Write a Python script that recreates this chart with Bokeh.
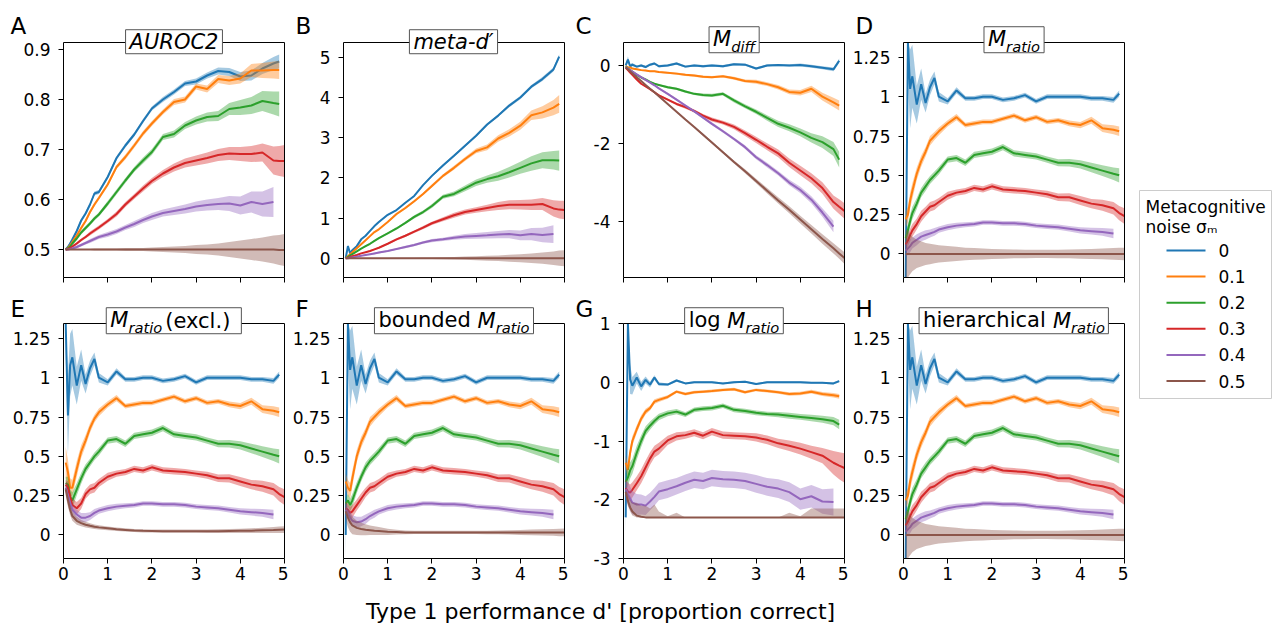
import math
from bokeh.plotting import figure
from bokeh.models import Range1d, FixedTicker, Label, PrintfTickFormatter, LinearAxis
from bokeh.layouts import row, column
from bokeh.embed import file_html
from bokeh.resources import INLINE

nan = float("nan")

# ---------------- data ----------------
X = [0.05, 0.1, 0.15, 0.2, 0.3, 0.4, 0.5, 0.6, 0.7, 0.8,
     1.0, 1.2, 1.4, 1.6, 1.8, 2.0, 2.25, 2.5, 2.75, 3.0,
     3.25, 3.5, 3.75, 4.0, 4.25, 4.5, 4.75, 4.88, 5.0]

SIGMA_LABELS = ["0", "0.1", "0.2", "0.3", "0.4", "0.5"]
COLORS = ["#1f77b4", "#ff7f0e", "#2ca02c", "#d62728", "#9467bd", "#8c564b"]

X_TICKS = [0, 1, 2, 3, 4, 5]
A_TICKS = [0.5, 0.6, 0.7, 0.8, 0.9]
B_TICKS = [0, 1, 2, 3, 4, 5]
C_TICKS = [-4, -2, 0]
MR_TICKS = [0, 0.25, 0.5, 0.75, 1, 1.25]
G_TICKS = [-3, -2, -1, 0, 1]
XLABEL = "Type 1 performance d' [proportion correct]"
LEGEND_TITLE = ["Metacognitive", "noise σₘ"]

# A: AUROC2
A0 = [0.500, 0.505, 0.512, 0.520, 0.537, 0.558, 0.572, 0.590, 0.612, 0.615,
      0.645, 0.683, 0.708, 0.730, 0.757, 0.782, 0.800, 0.815, 0.832, 0.836,
      0.848, 0.857, 0.855, 0.846, 0.848, 0.862, 0.872, 0.876, nan]
A0_E = [0.002, 0.003, 0.003, 0.004, 0.004, 0.004, 0.004, 0.004, 0.004, 0.004,
        0.004, 0.004, 0.004, 0.004, 0.004, 0.004, 0.005, 0.005, 0.005, 0.006,
        0.006, 0.007, 0.008, 0.009, 0.010, 0.011, 0.013, 0.014, nan]
A1 = [0.500, 0.503, 0.508, 0.515, 0.528, 0.543, 0.557, 0.575, 0.590, 0.603,
      0.630, 0.665, 0.685, 0.708, 0.732, 0.752, 0.775, 0.795, 0.800, 0.826,
      0.821, 0.841, 0.838, 0.842, 0.858, 0.858, 0.859, 0.859, nan]
A1_E = [0.002, 0.003, 0.003, 0.003, 0.004, 0.004, 0.004, 0.004, 0.004, 0.004,
        0.004, 0.004, 0.005, 0.005, 0.005, 0.005, 0.005, 0.006, 0.006, 0.006,
        0.007, 0.008, 0.009, 0.010, 0.013, 0.015, 0.017, 0.018, nan]
A2 = [0.500, 0.502, 0.506, 0.512, 0.522, 0.534, 0.543, 0.552, 0.562, 0.570,
      0.592, 0.615, 0.638, 0.660, 0.678, 0.695, 0.725, 0.731, 0.748, 0.758,
      0.765, 0.767, 0.781, 0.784, 0.788, 0.797, 0.793, 0.791, nan]
A2_E = [0.002, 0.002, 0.003, 0.003, 0.003, 0.004, 0.004, 0.004, 0.004, 0.004,
        0.005, 0.005, 0.005, 0.005, 0.006, 0.006, 0.006, 0.007, 0.007, 0.008,
        0.009, 0.010, 0.012, 0.015, 0.017, 0.020, 0.023, 0.025, nan]
A3 = [0.500, 0.501, 0.503, 0.506, 0.512, 0.519, 0.525, 0.532, 0.538, 0.544,
      0.557, 0.571, 0.590, 0.606, 0.622, 0.637, 0.652, 0.664, 0.673, 0.678,
      0.683, 0.689, 0.692, 0.691, 0.691, 0.694, 0.678, 0.677, 0.677]
A3_E = [0.002, 0.002, 0.002, 0.003, 0.003, 0.003, 0.003, 0.004, 0.004, 0.004,
        0.004, 0.005, 0.005, 0.005, 0.006, 0.006, 0.007, 0.008, 0.009, 0.010,
        0.011, 0.012, 0.013, 0.014, 0.016, 0.018, 0.028, 0.030, 0.032]
A4 = [0.500, 0.500, 0.501, 0.502, 0.505, 0.509, 0.513, 0.517, 0.521, 0.525,
      0.530, 0.536, 0.544, 0.551, 0.559, 0.566, 0.573, 0.577, 0.581, 0.586,
      0.589, 0.591, 0.592, 0.588, 0.595, 0.591, 0.595, nan, nan]
A4_E = [0.002, 0.002, 0.002, 0.003, 0.003, 0.003, 0.003, 0.004, 0.004, 0.004,
        0.005, 0.005, 0.005, 0.006, 0.006, 0.007, 0.007, 0.008, 0.009, 0.010,
        0.011, 0.012, 0.015, 0.018, 0.021, 0.025, 0.030, nan, nan]
A5 = [0.500, 0.500, 0.500, 0.500, 0.500, 0.500, 0.500, 0.500, 0.500, 0.500,
      0.500, 0.500, 0.500, 0.500, 0.500, 0.500, 0.500, 0.500, 0.500, 0.500,
      0.500, 0.500, 0.500, 0.500, 0.500, 0.500, 0.500, 0.499, 0.499]
A5_E = [0.001, 0.001, 0.001, 0.001, 0.001, 0.001, 0.001, 0.001, 0.002, 0.002,
        0.002, 0.002, 0.003, 0.003, 0.003, 0.004, 0.005, 0.006, 0.007, 0.009,
        0.010, 0.012, 0.015, 0.018, 0.021, 0.024, 0.028, 0.030, 0.032]

# B: meta-d'
B0 = [0.00, 0.30, 0.12, 0.20, 0.30, 0.47, 0.56, 0.68, 0.80, 0.90,
      1.08, 1.20, 1.38, 1.55, 1.82, 2.05, 2.31, 2.55, 2.80, 3.05,
      3.33, 3.55, 3.80, 4.00, 4.27, 4.46, 4.70, 5.02, nan]
B0_E = [0.02, 0.05, 0.03, 0.03, 0.02, 0.02, 0.02, 0.02, 0.02, 0.02,
        0.02, 0.02, 0.02, 0.02, 0.02, 0.03, 0.03, 0.03, 0.03, 0.03,
        0.03, 0.03, 0.04, 0.04, 0.04, 0.05, 0.05, 0.06, nan]
B1 = [0.00, 0.05, 0.10, 0.15, 0.25, 0.35, 0.45, 0.55, 0.65, 0.72,
      0.90, 1.10, 1.25, 1.42, 1.60, 1.80, 2.05, 2.25, 2.47, 2.67,
      2.76, 2.98, 3.12, 3.30, 3.56, 3.63, 3.75, 3.84, nan]
B1_E = [0.01, 0.01, 0.01, 0.01, 0.01, 0.02, 0.02, 0.02, 0.02, 0.02,
        0.02, 0.03, 0.03, 0.03, 0.03, 0.04, 0.04, 0.05, 0.05, 0.06,
        0.07, 0.08, 0.09, 0.10, 0.12, 0.15, 0.19, 0.22, nan]
B2 = [0.00, 0.03, 0.07, 0.10, 0.17, 0.24, 0.30, 0.36, 0.43, 0.50,
      0.62, 0.74, 0.88, 1.03, 1.15, 1.30, 1.53, 1.60, 1.74, 1.88,
      1.97, 2.04, 2.14, 2.25, 2.36, 2.44, 2.44, 2.43, nan]
B2_E = [0.01, 0.01, 0.01, 0.01, 0.01, 0.01, 0.02, 0.02, 0.02, 0.02,
        0.02, 0.03, 0.03, 0.04, 0.04, 0.05, 0.05, 0.06, 0.07, 0.08,
        0.09, 0.11, 0.13, 0.15, 0.18, 0.20, 0.23, 0.25, nan]
B3 = [0.00, 0.01, 0.03, 0.05, 0.08, 0.12, 0.15, 0.18, 0.22, 0.26,
      0.36, 0.47, 0.56, 0.66, 0.76, 0.87, 0.97, 1.07, 1.15, 1.20,
      1.25, 1.30, 1.33, 1.33, 1.33, 1.35, 1.24, 1.21, 1.20]
B3_E = [0.01, 0.01, 0.01, 0.01, 0.01, 0.01, 0.01, 0.02, 0.02, 0.02,
        0.02, 0.03, 0.03, 0.03, 0.04, 0.04, 0.05, 0.06, 0.06, 0.07,
        0.08, 0.10, 0.11, 0.12, 0.13, 0.15, 0.20, 0.22, 0.23]
B4 = [0.00, 0.00, 0.01, 0.02, 0.04, 0.06, 0.08, 0.10, 0.12, 0.14,
      0.18, 0.23, 0.28, 0.33, 0.39, 0.44, 0.47, 0.51, 0.54, 0.555,
      0.57, 0.59, 0.60, 0.57, 0.60, 0.58, 0.60, nan, nan]
B4_E = [0.01, 0.01, 0.01, 0.01, 0.01, 0.01, 0.01, 0.01, 0.02, 0.02,
        0.02, 0.02, 0.03, 0.03, 0.03, 0.04, 0.04, 0.05, 0.06, 0.07,
        0.08, 0.09, 0.10, 0.12, 0.15, 0.18, 0.22, nan, nan]
B5 = [0.00, 0.00, 0.00, 0.00, 0.00, 0.00, 0.00, 0.00, 0.00, 0.00,
      0.00, 0.00, 0.00, 0.00, 0.00, 0.00, 0.00, 0.00, 0.00, 0.00,
      0.00, 0.00, 0.00, 0.00, 0.00, 0.00, 0.00, 0.00, 0.00]
B5_E = [0.005, 0.005, 0.005, 0.005, 0.005, 0.005, 0.005, 0.006, 0.006, 0.007,
        0.008, 0.009, 0.010, 0.012, 0.015, 0.020, 0.025, 0.030, 0.040, 0.050,
        0.060, 0.070, 0.085, 0.100, 0.120, 0.140, 0.170, 0.190, 0.200]

# C: M_diff
C0 = [0.00, 0.15, -0.02, 0.02, -0.03, 0.00, -0.04, 0.02, 0.05, -0.02,
      0.00, 0.05, -0.03, 0.00, -0.02, 0.00, -0.02, 0.03, 0.02, -0.08,
      0.00, 0.01, 0.00, 0.01, -0.02, -0.06, -0.10, 0.12, nan]
C0_E = [0.05, 0.08, 0.05, 0.04, 0.03, 0.03, 0.03, 0.03, 0.03, 0.03,
        0.03, 0.03, 0.03, 0.03, 0.03, 0.03, 0.03, 0.03, 0.03, 0.03,
        0.03, 0.03, 0.03, 0.04, 0.04, 0.04, 0.05, 0.06, nan]
C1 = [-0.02, -0.05, -0.05, -0.08, -0.10, -0.12, -0.13, -0.15, -0.15, -0.17,
      -0.19, -0.21, -0.24, -0.26, -0.29, -0.30, -0.28, -0.33, -0.40, -0.42,
      -0.48, -0.56, -0.68, -0.70, -0.60, -0.80, -0.95, -1.03, nan]
C1_E = [0.02, 0.02, 0.02, 0.02, 0.02, 0.02, 0.02, 0.02, 0.02, 0.02,
        0.02, 0.03, 0.03, 0.03, 0.03, 0.03, 0.03, 0.04, 0.04, 0.05,
        0.05, 0.06, 0.06, 0.07, 0.08, 0.10, 0.12, 0.13, nan]
C2 = [-0.03, -0.08, -0.12, -0.16, -0.24, -0.31, -0.36, -0.42, -0.47, -0.50,
      -0.56, -0.60, -0.67, -0.73, -0.76, -0.77, -0.73, -0.90, -1.05, -1.19,
      -1.35, -1.50, -1.60, -1.72, -1.86, -1.97, -2.15, -2.42, nan]
C2_E = [0.02, 0.02, 0.02, 0.02, 0.02, 0.02, 0.02, 0.02, 0.02, 0.02,
        0.03, 0.03, 0.03, 0.03, 0.04, 0.04, 0.04, 0.05, 0.05, 0.06,
        0.07, 0.08, 0.09, 0.10, 0.12, 0.15, 0.18, 0.20, nan]
C3 = [-0.06, -0.12, -0.18, -0.24, -0.36, -0.47, -0.54, -0.61, -0.69, -0.77,
      -0.88, -0.99, -1.07, -1.17, -1.29, -1.39, -1.47, -1.58, -1.74, -1.91,
      -2.09, -2.26, -2.50, -2.70, -2.90, -3.15, -3.51, -3.63, -3.74]
C3_E = [0.02, 0.02, 0.02, 0.02, 0.02, 0.02, 0.02, 0.02, 0.03, 0.03,
        0.03, 0.03, 0.04, 0.04, 0.04, 0.05, 0.05, 0.06, 0.07, 0.08,
        0.09, 0.10, 0.11, 0.12, 0.13, 0.15, 0.17, 0.19, 0.20]
C4 = [-0.04, -0.08, -0.12, -0.16, -0.23, -0.30, -0.37, -0.44, -0.51, -0.59,
      -0.73, -0.88, -1.03, -1.18, -1.34, -1.50, -1.69, -1.89, -2.10, -2.36,
      -2.56, -2.77, -3.01, -3.20, -3.45, -3.78, -4.14, nan, nan]
C4_E = [0.02, 0.02, 0.02, 0.02, 0.02, 0.02, 0.02, 0.02, 0.02, 0.02,
        0.03, 0.03, 0.03, 0.03, 0.03, 0.04, 0.04, 0.04, 0.05, 0.05,
        0.06, 0.06, 0.07, 0.08, 0.09, 0.11, 0.15, nan, nan]
C5 = [-0.05, -0.10, -0.15, -0.20, -0.30, -0.40, -0.50, -0.60, -0.69, -0.79,
      -0.99, -1.19, -1.39, -1.58, -1.78, -1.98, -2.23, -2.48, -2.72, -2.97,
      -3.22, -3.47, -3.71, -3.96, -4.21, -4.46, -4.70, -4.83, -4.95]
C5_E = [0.01, 0.01, 0.01, 0.01, 0.01, 0.01, 0.01, 0.01, 0.01, 0.01,
        0.02, 0.02, 0.02, 0.02, 0.03, 0.03, 0.03, 0.04, 0.05, 0.06,
        0.07, 0.08, 0.09, 0.10, 0.11, 0.12, 0.13, 0.14, 0.15]

# D: M_ratio
D0 = [-0.30, 1.45, 1.05, 1.13, 0.95, 1.08, 0.96, 1.06, 1.12, 1.00,
      0.97, 1.04, 0.99, 0.99, 1.00, 1.00, 0.98, 0.99, 1.01, 0.97,
      1.00, 1.00, 1.00, 1.00, 0.99, 0.99, 0.98, 1.02, nan]
D0_E = [0.30, 0.35, 0.25, 0.20, 0.12, 0.10, 0.06, 0.05, 0.04, 0.03,
        0.02, 0.02, 0.015, 0.015, 0.015, 0.015, 0.015, 0.015, 0.015, 0.015,
        0.015, 0.015, 0.015, 0.015, 0.015, 0.015, 0.018, 0.02, nan]
D1 = [0.22, 0.25, 0.34, 0.40, 0.51, 0.59, 0.65, 0.72, 0.75, 0.78,
      0.83, 0.87, 0.82, 0.83, 0.84, 0.84, 0.86, 0.88, 0.85, 0.87,
      0.84, 0.85, 0.83, 0.82, 0.85, 0.80, 0.79, 0.78, nan]
D1_E = [0.05, 0.05, 0.05, 0.05, 0.04, 0.035, 0.03, 0.03, 0.025, 0.025,
        0.02, 0.02, 0.015, 0.015, 0.015, 0.015, 0.015, 0.015, 0.015, 0.015,
        0.015, 0.015, 0.018, 0.02, 0.022, 0.025, 0.028, 0.03, nan]
D2 = [0.10, 0.15, 0.21, 0.26, 0.32, 0.39, 0.43, 0.47, 0.50, 0.53,
      0.60, 0.61, 0.58, 0.63, 0.64, 0.65, 0.68, 0.64, 0.63, 0.62,
      0.60, 0.58, 0.58, 0.57, 0.55, 0.53, 0.51, 0.50, nan]
D2_E = [0.04, 0.04, 0.04, 0.04, 0.035, 0.03, 0.03, 0.025, 0.025, 0.025,
        0.02, 0.02, 0.02, 0.02, 0.02, 0.02, 0.02, 0.02, 0.02, 0.02,
        0.02, 0.022, 0.024, 0.026, 0.03, 0.034, 0.04, 0.045, nan]
D3 = [0.06, 0.085, 0.12, 0.15, 0.19, 0.24, 0.27, 0.30, 0.31, 0.33,
      0.37, 0.39, 0.40, 0.42, 0.41, 0.43, 0.41, 0.405, 0.40, 0.39,
      0.38, 0.36, 0.36, 0.34, 0.32, 0.31, 0.29, 0.26, 0.24]
D3_E = [0.04, 0.04, 0.04, 0.04, 0.035, 0.035, 0.03, 0.03, 0.03, 0.025,
        0.025, 0.02, 0.02, 0.02, 0.02, 0.02, 0.02, 0.02, 0.02, 0.02,
        0.022, 0.024, 0.026, 0.028, 0.03, 0.035, 0.04, 0.045, 0.05]
D4 = [0.02, 0.035, 0.05, 0.07, 0.09, 0.11, 0.12, 0.13, 0.14, 0.155,
      0.17, 0.18, 0.185, 0.19, 0.20, 0.20, 0.195, 0.195, 0.19, 0.18,
      0.175, 0.17, 0.16, 0.15, 0.145, 0.14, 0.13, nan, nan]
D4_E = [0.04, 0.04, 0.04, 0.035, 0.035, 0.03, 0.03, 0.025, 0.025, 0.02,
        0.02, 0.018, 0.016, 0.015, 0.015, 0.015, 0.015, 0.015, 0.015, 0.015,
        0.016, 0.017, 0.018, 0.02, 0.022, 0.025, 0.03, nan, nan]
D5 = [0.00, 0.00, 0.00, 0.00, 0.00, 0.00, 0.00, 0.00, 0.00, 0.00,
      0.00, 0.00, 0.00, 0.00, 0.00, 0.00, 0.00, 0.00, 0.00, 0.00,
      0.00, 0.00, 0.00, 0.00, 0.00, 0.00, 0.00, 0.00, 0.00]
D5_E = [0.15, 0.15, 0.13, 0.11, 0.09, 0.08, 0.07, 0.065, 0.06, 0.055,
        0.05, 0.045, 0.04, 0.037, 0.035, 0.032, 0.03, 0.028, 0.027, 0.026,
        0.026, 0.027, 0.028, 0.03, 0.032, 0.034, 0.037, 0.039, 0.04]

# E: M_ratio (excl.)
E0 = [1.45, 0.76, 1.08, 1.13, 0.95, 1.08, 0.96, 1.06, 1.12, 1.00,
      0.97, 1.04, 0.99, 0.99, 1.00, 1.00, 0.98, 0.99, 1.01, 0.97,
      1.00, 1.00, 1.00, 1.00, 0.99, 0.99, 0.98, 1.02, nan]
E0_E = [0.30, 0.25, 0.20, 0.18, 0.12, 0.10, 0.06, 0.05, 0.04, 0.03,
        0.02, 0.02, 0.015, 0.015, 0.015, 0.015, 0.015, 0.015, 0.015, 0.015,
        0.015, 0.015, 0.015, 0.015, 0.015, 0.015, 0.018, 0.02, nan]
E1 = [0.46, 0.40, 0.30, 0.30, 0.42, 0.53, 0.60, 0.68, 0.74, 0.78,
      0.83, 0.87, 0.82, 0.83, 0.84, 0.84, 0.86, 0.88, 0.85, 0.87,
      0.84, 0.85, 0.83, 0.82, 0.85, 0.80, 0.79, 0.78, nan]
E1_E = [0.10, 0.08, 0.06, 0.05, 0.05, 0.04, 0.035, 0.03, 0.025, 0.025,
        0.02, 0.02, 0.015, 0.015, 0.015, 0.015, 0.015, 0.015, 0.015, 0.015,
        0.015, 0.015, 0.018, 0.02, 0.022, 0.025, 0.028, 0.03, nan]
E2 = [0.33, 0.32, 0.24, 0.22, 0.29, 0.36, 0.42, 0.46, 0.50, 0.53,
      0.60, 0.61, 0.58, 0.63, 0.64, 0.65, 0.68, 0.64, 0.63, 0.62,
      0.60, 0.58, 0.58, 0.57, 0.55, 0.53, 0.51, 0.50, nan]
E2_E = [0.04, 0.05, 0.05, 0.05, 0.04, 0.035, 0.03, 0.025, 0.025, 0.025,
        0.02, 0.02, 0.02, 0.02, 0.02, 0.02, 0.02, 0.02, 0.02, 0.02,
        0.02, 0.022, 0.024, 0.026, 0.03, 0.034, 0.04, 0.045, nan]
E3 = [0.32, 0.30, 0.24, 0.19, 0.17, 0.20, 0.26, 0.29, 0.30, 0.33,
      0.37, 0.39, 0.40, 0.42, 0.41, 0.43, 0.41, 0.405, 0.40, 0.39,
      0.38, 0.36, 0.36, 0.34, 0.32, 0.31, 0.29, 0.26, 0.24]
E3_E = [0.03, 0.04, 0.04, 0.04, 0.04, 0.035, 0.03, 0.03, 0.03, 0.025,
        0.025, 0.02, 0.02, 0.02, 0.02, 0.02, 0.02, 0.02, 0.02, 0.02,
        0.022, 0.024, 0.026, 0.028, 0.03, 0.035, 0.04, 0.045, 0.05]
E4 = [0.30, 0.25, 0.20, 0.16, 0.13, 0.11, 0.11, 0.12, 0.14, 0.155,
      0.17, 0.18, 0.185, 0.19, 0.20, 0.20, 0.195, 0.195, 0.19, 0.18,
      0.175, 0.17, 0.16, 0.15, 0.145, 0.14, 0.13, nan, nan]
E4_E = [0.03, 0.03, 0.03, 0.03, 0.03, 0.03, 0.03, 0.025, 0.025, 0.02,
        0.02, 0.018, 0.016, 0.015, 0.015, 0.015, 0.015, 0.015, 0.015, 0.015,
        0.016, 0.017, 0.018, 0.02, 0.022, 0.025, 0.03, nan, nan]
E5 = [0.29, 0.22, 0.16, 0.12, 0.09, 0.075, 0.065, 0.058, 0.052, 0.048,
      0.042, 0.036, 0.032, 0.028, 0.026, 0.025, 0.024, 0.024, 0.024, 0.024,
      0.024, 0.024, 0.025, 0.026, 0.027, 0.029, 0.031, 0.033, 0.034]
E5_E = [0.04, 0.04, 0.035, 0.03, 0.025, 0.02, 0.018, 0.016, 0.015, 0.014,
        0.012, 0.011, 0.01, 0.01, 0.01, 0.01, 0.01, 0.01, 0.01, 0.01,
        0.011, 0.012, 0.013, 0.014, 0.015, 0.017, 0.019, 0.02, 0.021]

# F: bounded M_ratio
F0 = [0.00, 1.45, 1.05, 1.13, 0.95, 1.08, 0.96, 1.06, 1.12, 1.00,
      0.97, 1.04, 0.99, 0.99, 1.00, 1.00, 0.98, 0.99, 1.01, 0.97,
      1.00, 1.00, 1.00, 1.00, 0.99, 0.99, 0.98, 1.02, nan]
F1 = [0.34, 0.30, 0.28, 0.36, 0.50, 0.59, 0.65, 0.72, 0.75, 0.78,
      0.83, 0.87, 0.82, 0.83, 0.84, 0.84, 0.86, 0.88, 0.85, 0.87,
      0.84, 0.85, 0.83, 0.82, 0.85, 0.80, 0.79, 0.78, nan]
F2 = [0.20, 0.22, 0.19, 0.22, 0.30, 0.37, 0.43, 0.47, 0.50, 0.53,
      0.60, 0.61, 0.58, 0.63, 0.64, 0.65, 0.68, 0.64, 0.63, 0.62,
      0.60, 0.58, 0.58, 0.57, 0.55, 0.53, 0.51, 0.50, nan]
F3 = [0.17, 0.16, 0.14, 0.15, 0.19, 0.23, 0.27, 0.30, 0.31, 0.33,
      0.37, 0.39, 0.40, 0.42, 0.41, 0.43, 0.41, 0.405, 0.40, 0.39,
      0.38, 0.36, 0.36, 0.34, 0.32, 0.31, 0.29, 0.26, 0.24]
F4 = [0.16, 0.14, 0.11, 0.09, 0.08, 0.085, 0.10, 0.12, 0.135, 0.15,
      0.17, 0.18, 0.185, 0.19, 0.20, 0.20, 0.195, 0.195, 0.19, 0.18,
      0.175, 0.17, 0.16, 0.15, 0.145, 0.14, 0.13, nan, nan]
F5 = [0.15, 0.11, 0.08, 0.06, 0.045, 0.038, 0.033, 0.03, 0.027, 0.025,
      0.02, 0.018, 0.016, 0.016, 0.016, 0.016, 0.016, 0.016, 0.016, 0.016,
      0.016, 0.016, 0.016, 0.016, 0.016, 0.016, 0.016, 0.016, 0.016]
F5_E = [0.05, 0.06, 0.06, 0.055, 0.045, 0.04, 0.035, 0.03, 0.028, 0.025,
        0.02, 0.015, 0.012, 0.01, 0.01, 0.01, 0.01, 0.01, 0.01, 0.01,
        0.011, 0.012, 0.014, 0.016, 0.018, 0.02, 0.022, 0.024, 0.025]

# G: log M_ratio
G0 = [-2.30, 1.10, 0.05, -0.06, 0.08, -0.07, 0.04, -0.04, 0.08, -0.03,
      -0.04, 0.03, -0.02, 0.00, 0.00, 0.00, -0.02, 0.00, 0.01, -0.03,
      0.00, 0.00, 0.00, 0.00, -0.01, -0.01, -0.02, 0.02, nan]
G0_E = [0.30, 0.30, 0.25, 0.15, 0.10, 0.08, 0.06, 0.05, 0.04, 0.03,
        0.02, 0.02, 0.015, 0.015, 0.015, 0.015, 0.015, 0.015, 0.015, 0.015,
        0.015, 0.015, 0.015, 0.015, 0.015, 0.015, 0.018, 0.02, nan]
G1 = [-1.37, -1.49, -1.20, -1.00, -0.80, -0.62, -0.50, -0.44, -0.33, -0.30,
      -0.25, -0.16, -0.20, -0.17, -0.16, -0.15, -0.13, -0.12, -0.17, -0.13,
      -0.15, -0.17, -0.20, -0.19, -0.16, -0.20, -0.22, -0.24, nan]
G1_E = [0.12, 0.12, 0.10, 0.08, 0.07, 0.06, 0.05, 0.04, 0.04, 0.035,
        0.03, 0.025, 0.025, 0.025, 0.025, 0.025, 0.025, 0.025, 0.025, 0.025,
        0.025, 0.025, 0.028, 0.03, 0.032, 0.035, 0.038, 0.04, nan]
G2 = [-1.70, -1.62, -1.50, -1.43, -1.20, -1.00, -0.83, -0.74, -0.66, -0.59,
      -0.53, -0.50, -0.55, -0.47, -0.45, -0.44, -0.40, -0.47, -0.49, -0.52,
      -0.54, -0.55, -0.57, -0.59, -0.61, -0.63, -0.66, -0.72, nan]
G2_E = [0.15, 0.15, 0.14, 0.13, 0.12, 0.10, 0.08, 0.07, 0.06, 0.055,
        0.05, 0.045, 0.04, 0.04, 0.04, 0.04, 0.04, 0.04, 0.04, 0.04,
        0.04, 0.045, 0.05, 0.05, 0.055, 0.06, 0.07, 0.08, nan]
G3 = [-1.80, -1.86, -1.88, -1.83, -1.72, -1.60, -1.45, -1.30, -1.18, -1.13,
      -0.99, -0.92, -0.90, -0.86, -0.91, -0.84, -0.90, -0.91, -0.92, -0.94,
      -0.98, -1.04, -1.08, -1.13, -1.19, -1.25, -1.37, -1.42, -1.46]
G3_E = [0.15, 0.15, 0.14, 0.13, 0.12, 0.12, 0.12, 0.11, 0.10, 0.10,
        0.08, 0.07, 0.06, 0.06, 0.06, 0.06, 0.06, 0.06, 0.06, 0.07,
        0.075, 0.08, 0.09, 0.10, 0.11, 0.13, 0.20, 0.23, 0.25]
G4 = [-1.82, -1.90, -1.98, -2.05, -2.08, -2.08, -2.10, -2.03, -1.95, -1.86,
      -1.82, -1.77, -1.71, -1.66, -1.68, -1.63, -1.65, -1.66, -1.68, -1.73,
      -1.78, -1.81, -1.87, -1.99, -1.94, -2.03, -2.04, nan, nan]
G4_E = [0.15, 0.20, 0.20, 0.20, 0.18, 0.17, 0.16, 0.15, 0.15, 0.15,
        0.15, 0.14, 0.14, 0.14, 0.14, 0.14, 0.14, 0.14, 0.14, 0.15,
        0.15, 0.16, 0.17, 0.18, 0.19, 0.21, 0.23, nan, nan]
G5 = [-1.87, -2.02, -2.13, -2.20, -2.27, -2.29, -2.30, -2.30, -2.30, -2.30,
      -2.30, -2.30, -2.30, -2.30, -2.30, -2.30, -2.30, -2.30, -2.30, -2.30,
      -2.30, -2.30, -2.30, -2.30, -2.30, -2.30, -2.30, -2.30, -2.30]
G5_LO = [-1.95, -2.10, -2.20, -2.27, -2.30, -2.30, -2.30, -2.30, -2.30, -2.30,
         -2.30, -2.30, -2.30, -2.30, -2.30, -2.30, -2.30, -2.30, -2.30, -2.30,
         -2.30, -2.30, -2.30, -2.30, -2.30, -2.30, -2.30, -2.30, -2.30]
G5_HI = [-1.80, -1.90, -2.00, -2.05, -2.05, -2.10, -2.10, -2.15, -2.08, -2.20,
         -2.28, -2.22, -2.30, -2.30, -2.30, -2.30, -2.30, -2.30, -2.30, -2.30,
         -2.30, -2.30, -2.22, -2.28, -2.15, -2.15, -2.15, -2.15, -2.15]

# H: hierarchical M_ratio (reads the same as panel D)
H0, H1, H2, H3, H4, H5 = D0, D1, D2, D3, D4, D5
H0_E, H1_E, H2_E, H3_E, H4_E, H5_E = D0_E, D1_E, D2_E, D3_E, D4_E, D5_E

# ---------------- styling / layout ----------------
FONT = "DejaVu Sans"
TICK_PX = 17
TITLE_PX = 21
SUB_PX = 14.7
LETTER_PX = 23
DATA_W = 221
COL_W = [288, 280, 280, 280]
COL_L = [63, 55, 55, 55]
LETTER_DX = [-53, -48, -48, -48]
LETTER_DY = [8.5, 6.5]          # letter baseline above the plot top
ROW_H = [289, 299]
ROW_T = [42, 34]
ROW_B = [277, 269]
BASE_K = 0.346                  # bokeh places an 'alphabetic' label this many em low

CW = {"A": .684, "U": .732, "R": .695, "O": .787, "C": .698, "2": .636, "M": .863,
      "m": .974, "e": .615, "t": .392, "a": .613, "-": .361, "d": .635, "′": .275,
      "r": .411, "i": .278, "o": .612, "f": .352, " ": .318, "(": .390, ")": .390,
      "x": .592, "c": .550, "l": .278, ".": .318, "b": .635, "u": .634, "n": .634,
      "h": .634, "g": .635}


def text_w(s, px):
    return sum(CW.get(ch, 0.6) for ch in s) * px


def base_off(px):
    return BASE_K * px


# title segments: (text, style, size, drop below main baseline, extra gap before)
PANELS = [
    dict(letter="A", yr=(0.444, 0.914), ticks=A_TICKS,
         title=[("AUROC2", "italic", TITLE_PX, 0, 0)],
         means=[A0, A1, A2, A3, A4, A5], errs=[A0_E, A1_E, A2_E, A3_E, A4_E, A5_E]),
    dict(letter="B", yr=(-0.48, 5.37), ticks=B_TICKS,
         title=[("meta-d′", "italic", TITLE_PX, 0, 0)],
         means=[B0, B1, B2, B3, B4, B5], errs=[B0_E, B1_E, B2_E, B3_E, B4_E, B5_E]),
    dict(letter="C", yr=(-5.45, 0.59), ticks=C_TICKS,
         title=[("M", "italic", TITLE_PX, 0, 0), ("diff", "italic", SUB_PX, 4.5, 0)],
         means=[C0, C1, C2, C3, C4, C5], errs=[C0_E, C1_E, C2_E, C3_E, C4_E, C5_E]),
    dict(letter="D", yr=(-0.15, 1.345), ticks=MR_TICKS,
         title=[("M", "italic", TITLE_PX, 0, 0), ("ratio", "italic", SUB_PX, 4.5, 0)],
         means=[D0, D1, D2, D3, D4, D5], errs=[D0_E, D1_E, D2_E, D3_E, D4_E, D5_E]),
    dict(letter="E", yr=(-0.15, 1.345), ticks=MR_TICKS,
         title=[("M", "italic", TITLE_PX, 0, 0), ("ratio", "italic", SUB_PX, 4.5, 0),
                (" (excl.)", "normal", TITLE_PX, 0, 3)],
         means=[E0, E1, E2, E3, E4, E5], errs=[E0_E, E1_E, E2_E, E3_E, E4_E, E5_E]),
    dict(letter="F", yr=(-0.15, 1.345), ticks=MR_TICKS,
         title=[("bounded ", "normal", TITLE_PX, 0, 0), ("M", "italic", TITLE_PX, 0, 0),
                ("ratio", "italic", SUB_PX, 4.5, 0)],
         means=[F0, F1, F2, F3, F4, F5], errs=[D0_E, D1_E, D2_E, D3_E, D4_E, F5_E]),
    dict(letter="G", yr=(-3.0, 1.0), ticks=G_TICKS,
         title=[("log ", "normal", TITLE_PX, 0, 0), ("M", "italic", TITLE_PX, 0, 0),
                ("ratio", "italic", SUB_PX, 4.5, 0)],
         means=[G0, G1, G2, G3, G4, G5], errs=[G0_E, G1_E, G2_E, G3_E, G4_E, (G5_LO, G5_HI)]),
    dict(letter="H", yr=(-0.15, 1.345), ticks=MR_TICKS,
         title=[("hierarchical ", "normal", TITLE_PX, 0, 0), ("M", "italic", TITLE_PX, 0, 0),
                ("ratio", "italic", SUB_PX, 4.5, 0)],
         means=[H0, H1, H2, H3, H4, H5], errs=[H0_E, H1_E, H2_E, H3_E, H4_E, H5_E]),
]


def style_axis(ax):
    ax.axis_line_color = "black"
    ax.axis_line_width = 1
    ax.major_tick_line_color = "black"
    ax.major_tick_line_width = 1
    ax.major_tick_in = 0
    ax.major_tick_out = 5
    ax.minor_tick_line_color = None
    ax.minor_tick_out = 0
    ax.minor_tick_in = 0
    ax.major_label_text_font = FONT
    ax.major_label_text_font_size = f"{TICK_PX}px"
    ax.major_label_text_color = "black"
    ax.formatter = PrintfTickFormatter(format="%g")


def spine(loc, bounds):
    ax = LinearAxis(fixed_location=loc, bounds=bounds, ticker=FixedTicker(ticks=[]))
    style_axis(ax)
    ax.major_tick_out = 0
    ax.major_label_text_color = None
    return ax


def make_panel(cfg, col, rw):
    y0, y1 = cfg["yr"]
    W, L = COL_W[col], COL_L[col]
    Hh, T, B = ROW_H[rw], ROW_T[rw], ROW_B[rw]
    kx = 5.0 / DATA_W
    ky = (y1 - y0) / (B - T)
    xr = Range1d(-L * kx, 5 + (W - L - DATA_W) * kx)
    yr = Range1d(y0 - (Hh - B) * ky, y1 + T * ky)
    p = figure(width=W, height=Hh, x_range=xr, y_range=yr,
               output_backend="svg", toolbar_location=None, tools="", min_border=0)
    p.xgrid.visible = False
    p.ygrid.visible = False
    p.outline_line_color = None
    p.background_fill_color = "white"
    p.border_fill_color = "white"

    yax = p.yaxis[0]
    style_axis(yax)
    yax.fixed_location = 0
    yax.bounds = (y0, y1)
    yax.ticker = FixedTicker(ticks=cfg["ticks"])
    yax.major_label_standoff = 8

    xax = p.xaxis[0]
    style_axis(xax)
    xax.fixed_location = y0
    xax.bounds = (0, 5)
    xax.ticker = FixedTicker(ticks=X_TICKS)
    xax.major_label_standoff = 3
    if rw == 0:
        xax.major_label_text_color = None

    p.add_layout(spine(5, (y0, y1)), "right")
    p.add_layout(spine(y1, (0, 5)), "above")

    for i in range(6):
        m = cfg["means"][i]
        e = cfg["errs"][i]
        keep = [k for k in range(len(X)) if not math.isnan(m[k])]
        xs = [X[k] for k in keep]
        ys = [min(max(m[k], y0), y1) for k in keep]
        if isinstance(e, tuple):
            lo = [e[0][k] for k in keep]
            hi = [e[1][k] for k in keep]
        else:
            lo = [m[k] - e[k] for k in keep]
            hi = [m[k] + e[k] for k in keep]
        lo = [min(max(v, y0), y1) for v in lo]
        hi = [min(max(v, y0), y1) for v in hi]
        p.varea(x=xs, y1=lo, y2=hi, fill_color=COLORS[i], fill_alpha=0.4)
        p.line(x=xs, y=ys, line_color=COLORS[i], line_width=2)

    # panel letter
    p.add_layout(Label(x=0, y=y1, x_offset=LETTER_DX[col],
                       y_offset=LETTER_DY[rw] + base_off(LETTER_PX),
                       text=cfg["letter"], text_font=FONT, text_font_size=f"{LETTER_PX}px",
                       text_align="left", text_baseline="alphabetic", text_color="black"))

    # boxed title built from segments
    segs = cfg["title"]
    has_sub = any(s[3] for s in segs)
    base_below = 4.5 if has_sub else 6.5
    widths = [text_w(s[0], s[2]) + s[4] for s in segs]
    total = sum(widths)
    start = -total / 2.0
    pad = 4
    for j, (txt, style, px, drop, gap) in enumerate(segs):
        kw = {}
        xo = start + sum(widths[:j]) + gap
        if j == 0:
            kw = dict(background_fill_color="white", border_line_color="#555555",
                      border_line_width=1,
                      padding=dict(left=pad, right=int(round(pad + total - widths[0])),
                                   top=0, bottom=2 if has_sub else 0))
            xo -= pad
        p.add_layout(Label(x=2.5, y=y1, x_offset=xo,
                           y_offset=-(base_below + drop) + base_off(px),
                           text=txt, text_font=FONT,
                           text_font_size=f"{px}px", text_font_style=style,
                           text_align="left", text_baseline="alphabetic",
                           text_color="black", **kw))
    return p


panels = []
for idx, cfg in enumerate(PANELS):
    panels.append(make_panel(cfg, idx % 4, idx // 4))

# legend figure
LEG_W = 146
LEG_H = ROW_H[0] + ROW_H[1]
lg = figure(width=LEG_W, height=LEG_H, x_range=Range1d(0, LEG_W), y_range=Range1d(0, LEG_H),
            output_backend="svg", toolbar_location=None, tools="", min_border=0,
            x_axis_type=None, y_axis_type=None)
lg.outline_line_color = None
lg.background_fill_color = "white"
lg.border_fill_color = "white"
top_px = LEG_H - 190
lg.quad(left=11, right=143, bottom=top_px - 208, top=top_px, fill_color="white",
        line_color="#cccccc", line_width=1)
lg.add_layout(Label(x=17, y=top_px - 22 + base_off(17), text=LEGEND_TITLE[0], text_font=FONT,
                    text_font_size="17px", text_baseline="alphabetic", text_color="black"))
lg.add_layout(Label(x=17, y=top_px - 42 + base_off(17), text=LEGEND_TITLE[1], text_font=FONT,
                    text_font_size="17px", text_baseline="alphabetic", text_color="black"))
for i, (lab, col) in enumerate(zip(SIGMA_LABELS, COLORS)):
    yy = top_px - 60 - 26.1 * i
    lg.line(x=[38, 77], y=[yy, yy], line_color=col, line_width=2)
    lg.add_layout(Label(x=90, y=yy, text=lab, text_font=FONT, text_font_size="17px",
                        text_baseline="middle", text_color="black"))

# x label figure
XL_W = sum(COL_W) + LEG_W
XL_H = 40
xl = figure(width=XL_W, height=XL_H, x_range=Range1d(0, XL_W), y_range=Range1d(0, XL_H),
            output_backend="svg", toolbar_location=None, tools="", min_border=0,
            x_axis_type=None, y_axis_type=None)
xl.outline_line_color = None
xl.background_fill_color = "white"
xl.border_fill_color = "white"
xl.add_layout(Label(x=600, y=9 + base_off(22), text=XLABEL, text_font=FONT,
                    text_font_size="22px", text_align="center", text_baseline="alphabetic",
                    text_color="black"))

grid = column(row(*panels[:4]), row(*panels[4:]))
layout = column(row(grid, lg), xl)

open("out.html", "w").write(file_html(layout, INLINE, title="chart"))
